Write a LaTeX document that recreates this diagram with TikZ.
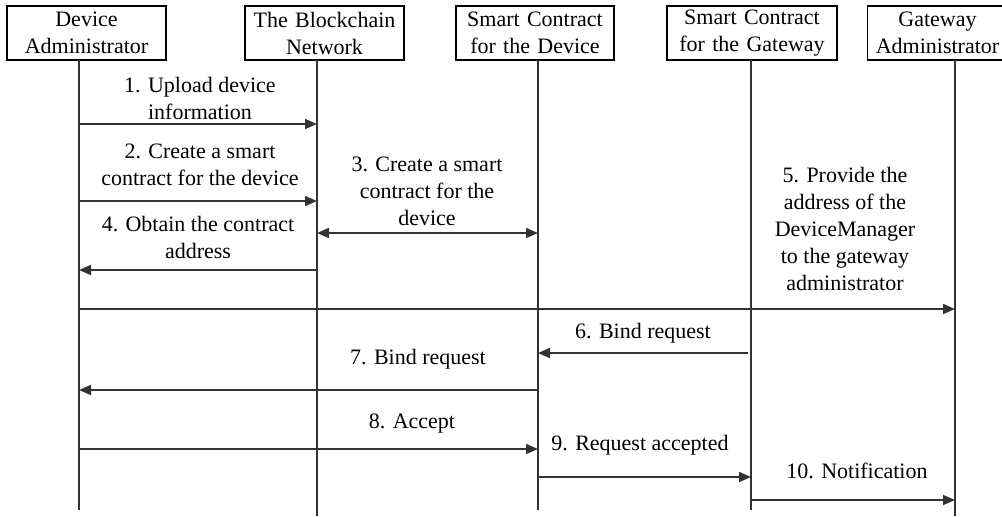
\documentclass[tikz,border=0pt]{standalone}
\usepackage{fontspec}
\setmainfont{Liberation Serif}
\usetikzlibrary{arrows.meta}
\begin{document}
\begin{tikzpicture}[x=0.5pt,y=-0.5pt,
  every node/.style={font=\fontsize{11}{13.5}\selectfont, align=center, inner sep=0pt},
  actor/.style={draw, line width=0.9pt, minimum height=27pt, text width=#1, align=center},
  life/.style={line width=0.9pt, draw=black!80},
  msg/.style={line width=0.9pt, draw=black!80, -{Triangle[length=6pt,width=5pt]}},
  dmsg/.style={line width=0.9pt, draw=black!80, {Triangle[length=6pt,width=5pt]}-{Triangle[length=6pt,width=5pt]}}]
\clip (0,0) rectangle (1002,516);
\fill[white] (0,0) rectangle (1002,516);

% participants
\node[actor=79.5pt] (da)  at (86.5,33) {Device\\Administrator};
\node[actor=79.5pt] (bc)  at (324.5,33) {The Blockchain\\Network};
\node[actor=79pt]   (scd) at (535,33) {Smart Contract\\for the Device};
\node[actor=85pt]   (scg) at (752,33) {Smart Contract\\for the Gateway};
\node[actor=70pt]   (ga)  at (937.5,33) {Gateway\\Administrator};

% lifelines
\coordinate (daT) at (79,60);   \coordinate (daB) at (79,510);
\coordinate (bcT) at (317,60);  \coordinate (bcB) at (317,516);
\coordinate (scdT) at (538,60); \coordinate (scdB) at (538,510);
\coordinate (scgT) at (751,60); \coordinate (scgB) at (751,510);
\coordinate (gaT) at (955,60);  \coordinate (gaB) at (955,516);
\draw[life] (daT) -- (daB);
\draw[life] (bcT) -- (bcB);
\draw[life] (scdT) -- (scdB);
\draw[life] (scgT) -- (scgB);
\draw[life] (gaT) -- (gaB);

% message end points
\coordinate (m1a) at (79,124);  \coordinate (m1b) at (317,124);
\coordinate (m2a) at (79,201);  \coordinate (m2b) at (317,201);
\coordinate (m3a) at (317,233); \coordinate (m3b) at (538,233);
\coordinate (m4a) at (317,270); \coordinate (m4b) at (79,270);
\coordinate (m5a) at (79,309);  \coordinate (m5b) at (955,309);
\coordinate (m6a) at (748,353); \coordinate (m6b) at (538,353);
\coordinate (m7a) at (538,390); \coordinate (m7b) at (79,390);
\coordinate (m8a) at (79,449);  \coordinate (m8b) at (538,449);
\coordinate (m9a) at (538,477); \coordinate (m9b) at (751,477);
\coordinate (m10a) at (751,500); \coordinate (m10b) at (955,500);

\draw[msg]  (m1a) -- (m1b);
\draw[msg]  (m2a) -- (m2b);
\draw[dmsg] (m3a) -- (m3b);
\draw[msg]  (m4a) -- (m4b);
\draw[msg]  (m5a) -- (m5b);
\draw[msg]  (m6a) -- (m6b);
\draw[msg]  (m7a) -- (m7b);
\draw[msg]  (m8a) -- (m8b);
\draw[msg]  (m9a) -- (m9b);
\draw[msg]  (m10a) -- (m10b);

% message labels
\node (l1)  at (200,98.5) {1. Upload device\\information};
\node (l2)  at (200,165)  {2. Create a smart\\contract for the device};
\node (l3)  at (427,191)  {3. Create a smart\\contract for the\\device};
\node (l4)  at (198,237)  {4. Obtain the contract\\address};
\node (l5)  at (845,229)  {5. Provide the\\address of the\\DeviceManager\\to the gateway\\administrator};
\node (l6)  at (643,333)  {6. Bind request};
\node (l7)  at (418,359)  {7. Bind request};
\node (l8)  at (412,424)  {8. Accept};
\node (l9)  at (640,445)  {9. Request accepted};
\node (l10) at (857,471)  {10. Notification};
\end{tikzpicture}
\end{document}
